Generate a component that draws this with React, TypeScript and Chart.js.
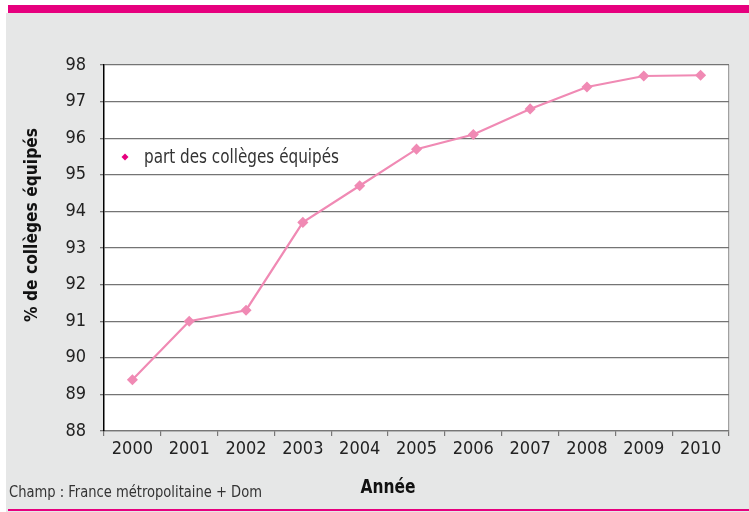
import React, { useEffect, useRef } from "react";
import { Chart, registerables } from "chart.js";

Chart.register(...registerables);

const years = ["2000", "2001", "2002", "2003", "2004", "2005", "2006", "2007", "2008", "2009", "2010"];
const shareEquipped = [89.4, 91.0, 91.3, 93.7, 94.7, 95.7, 96.1, 96.8, 97.4, 97.7, 97.72];
const yMin = 88;
const yMax = 98;
const yStep = 1;
const seriesLabel = "part des collèges équipés";
const xTitle = "Année";
const yTitle = "% de collèges équipés";
const footnote = "Champ : France métropolitaine + Dom";

const FONT = '"DejaVu Sans Condensed", "Liberation Sans Narrow", sans-serif';
const MAGENTA = "#e6007e";
const LINE_PINK = "#f08ab4";
const BG_GREY = "#e6e7e7";

// draw text squeezed horizontally to a target width (condensed look)
function fillTextFit(ctx: CanvasRenderingContext2D, text: string, x: number, y: number, targetWidth: number, align: "left" | "center") {
  const w = ctx.measureText(text).width;
  const sx = Math.min(1, targetWidth / w);
  ctx.save();
  ctx.translate(x, y);
  ctx.scale(sx, 1);
  ctx.textAlign = align;
  ctx.fillText(text, 0, 0);
  ctx.restore();
}

const decorPlugin = {
  id: "decor",
  beforeDraw(chart: any) {
    const { ctx, width, height, chartArea } = chart;
    ctx.save();
    ctx.fillStyle = "#ffffff";
    ctx.fillRect(0, 0, width, height);
    ctx.fillStyle = BG_GREY;
    ctx.fillRect(6, 13, width - 6, height - 13);
    ctx.fillStyle = MAGENTA;
    ctx.fillRect(8, 5, width - 8, 8);
    ctx.fillRect(8, 509, width - 8, 2);
    ctx.fillStyle = "#ffffff";
    ctx.fillRect(chartArea.left, chartArea.top, chartArea.right - chartArea.left, chartArea.bottom - chartArea.top);
    ctx.restore();
  },
  afterDraw(chart: any) {
    const { ctx } = chart;
    ctx.save();
    ctx.textBaseline = "alphabetic";
    // x axis title
    ctx.fillStyle = "#111";
    ctx.font = `bold 20px ${FONT}`;
    fillTextFit(ctx, xTitle, 388, 493, 55, "center");
    // y axis title
    ctx.save();
    ctx.translate(37, 225);
    ctx.rotate(-Math.PI / 2);
    ctx.font = `bold 18px ${FONT}`;
    fillTextFit(ctx, yTitle, 0, 0, 194, "center");
    ctx.restore();
    // footnote
    ctx.fillStyle = "#333";
    ctx.font = `16px ${FONT}`;
    fillTextFit(ctx, footnote, 9, 497, 253, "left");
    // legend
    const ds = chart.data.datasets[0];
    ctx.fillStyle = MAGENTA;
    ctx.beginPath();
    const mx = 125, my = 157, r = 3.5;
    ctx.moveTo(mx, my - r);
    ctx.lineTo(mx + r, my);
    ctx.lineTo(mx, my + r);
    ctx.lineTo(mx - r, my);
    ctx.closePath();
    ctx.fill();
    ctx.fillStyle = "#333";
    ctx.font = `19px ${FONT}`;
    fillTextFit(ctx, ds.label, 144, 163, 195, "left");
    ctx.restore();
  },
};

export default function App() {
  const ref = useRef<HTMLCanvasElement | null>(null);

  useEffect(() => {
    if (!ref.current) return;
    const chart = new Chart(ref.current, {
      type: "line",
      data: {
        labels: years,
        datasets: [
          {
            label: seriesLabel,
            data: shareEquipped,
            borderColor: LINE_PINK,
            backgroundColor: LINE_PINK,
            borderWidth: 2.2,
            pointStyle: "rectRot",
            pointRadius: 4,
            pointBackgroundColor: LINE_PINK,
            pointBorderColor: LINE_PINK,
            tension: 0,
          },
        ],
      },
      options: {
        responsive: false,
        animation: false,
        layout: { padding: { top: 65, right: 20, bottom: 0, left: 0 } },
        plugins: {
          legend: { display: false },
          tooltip: { enabled: false },
          title: { display: false },
        },
        scales: {
          x: {
            type: "category",
            offset: true,
            afterFit(scale: any) {
              scale.height = 81;
            },
            grid: {
              offset: true,
              drawOnChartArea: true,
              color: (c: any) => (c.type === "scale" ? "#a0a0a0" : "rgba(0,0,0,0)"),
              tickColor: "#777",
              tickLength: 5,
              lineWidth: 1.2,
            },
            border: { display: true, color: "#777", width: 1.2 },
            ticks: {
              color: "#222",
              font: { family: FONT, size: 18 },
              padding: 3,
              maxRotation: 0,
              autoSkip: false,
            },
          },
          y: {
            min: yMin,
            max: yMax,
            afterFit(scale: any) {
              scale.width = 104;
            },
            ticks: {
              stepSize: yStep,
              color: "#222",
              font: { family: FONT, size: 18 },
              padding: 14,
            },
            grid: {
              color: "#747474",
              lineWidth: 1.3,
              tickLength: 4,
              tickColor: "#747474",
            },
            border: { display: true, color: "#000", width: 1.5 },
          },
        },
      },
      plugins: [decorPlugin],
    });
    return () => chart.destroy();
  }, []);

  return (
    <div style={{ position: "absolute", left: 0, top: 0, width: 749, height: 512 }}>
      <canvas ref={ref} width={749} height={512} style={{ display: "block" }} />
    </div>
  );
}
